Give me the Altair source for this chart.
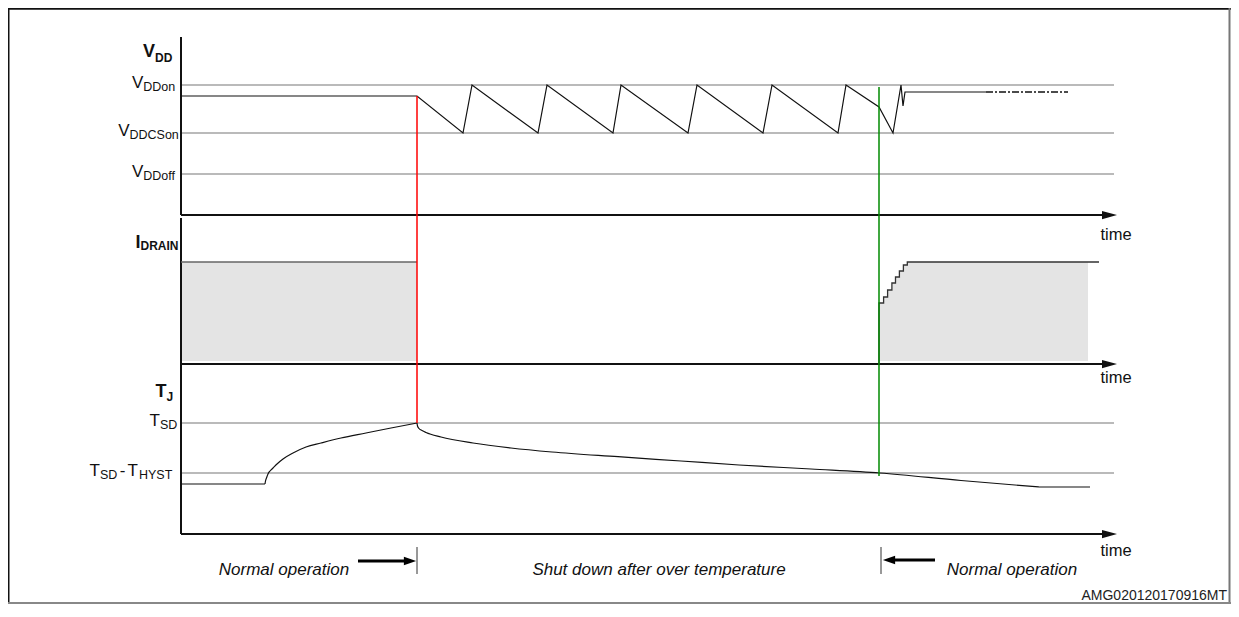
import altair as alt
import pandas as pd

# ------------------------------------------------------------------
# Values.
# time unit t : one unit = one pixel of the drawing, origin on the vertical axis
# level       : units above each panel's own time axis
# ------------------------------------------------------------------
T_SHUTDOWN = 236          # over-temperature shut-down (red marker)
T_RESTART = 698           # restart (green marker)
T_REF_END = 933           # end of the grey threshold lines
T_SHAFT_END = 922         # end of the time-axis shaft
T_HEAD = 928.5            # centre of the time-axis arrow head

# ---- VDD panel ----
vdd_ref_sub = ["DDon", "DDCSon", "DDoff"]
vdd_ref_level = [130, 82, 41]
vdd_t = [0, 236, 282, 291, 357, 366, 432, 440, 507, 516, 582, 591, 657, 665,
         698, 712, 720, 722, 724, 805]
vdd_v = [119, 119, 82, 130, 82, 130, 82, 130, 82, 130, 82, 130, 82, 130,
         108, 82, 130, 109, 123, 123]
vdd_tail_t = [805, 887]
vdd_tail_v = [123, 123]
vdd_axis_top = 178

# ---- IDRAIN panel ----
id_on_t = [0, 236]
id_on_level = 102
id_step_t = [698, 698, 702.6, 706.6, 710.9, 714.5, 718.4, 722.4, 726.3, 918]
id_step_v = [0, 61, 67, 74, 81, 87, 93, 99, 102, 102]
id_fill_end = 907
id_fill_floor = 3
id_axis_top = 146

# ---- TJ panel ----
tj_ref_level = [111, 61]            # T_SD, T_SD - T_HYST
tj_start_t = [0, 84]
tj_start_v = [50, 50]
tj_rise_t = [84, 84.5, 85.5, 87, 89, 92, 96, 102, 112, 125, 140, 160, 185, 210, 236]
tj_rise_v = [50, 53, 56, 60, 63, 66, 70, 75, 81, 87, 91, 96, 101, 106, 111]
tj_fall_t = [236, 236.5, 238, 241, 245, 260, 292, 330, 371, 437, 500, 558, 630,
             699, 780, 858]
tj_fall_v = [111, 108, 105.5, 103.5, 101.5, 97, 91, 86, 82, 77.3, 73, 69, 65,
             61, 53.5, 47]
tj_end_t = [858, 909]
tj_end_v = [47, 47]

# ------------------------------------------------------------------
# layout (styles)
# ------------------------------------------------------------------
W, H = 1223, 596
X_DOM = [-173, 1050]
Y_DOM = [0, 596]
BASE = {"vdd": 389, "id": 240, "tj": 70}
FONT = "Liberation Sans"

xs = alt.Scale(domain=X_DOM, nice=False, zero=False)
ys = alt.Scale(domain=Y_DOM, nice=False, zero=False)


def enc_x(f="t"):
    return alt.X(f, type="quantitative", scale=xs, axis=None)


def enc_y(f="y"):
    return alt.Y(f, type="quantitative", scale=ys, axis=None)


def line_df(ts, vs, base, name):
    return pd.DataFrame({"t": ts, "y": [base + v for v in vs],
                         "s": name, "i": list(range(len(ts)))})


layers = []

# ---------------- frame ----------------
frame = pd.DataFrame({
    "t": [-172.5, X_DOM[0], 1048.5, X_DOM[0]],
    "t2": [-172.5, X_DOM[1], 1048.5, X_DOM[1]],
    "y": [Y_DOM[0], 595.3, Y_DOM[0], 1.0],
    "y2": [Y_DOM[1], 595.3, Y_DOM[1], 1.0],
    "c": ["#111111", "#111111", "#777777", "#888888"],
})
layers.append(alt.Chart(frame).mark_rule(strokeWidth=2).encode(
    x=enc_x("t"), x2="t2", y=enc_y("y"), y2="y2",
    color=alt.Color("c:N", scale=None)))

# ---------------- IDRAIN fills ----------------
box = pd.DataFrame({"t": [id_on_t[0]], "t2": [id_on_t[1]],
                    "y": [BASE["id"] + id_fill_floor], "y2": [BASE["id"] + id_on_level]})
layers.append(alt.Chart(box).mark_rect(color="#e4e4e4").encode(
    x=enc_x("t"), x2="t2", y=enc_y("y"), y2="y2"))

area_t = id_step_t[1:-1] + [id_fill_end]
area_v = id_step_v[1:-1] + [id_step_v[-1]]
area = pd.DataFrame({"t": area_t, "y": [BASE["id"] + v for v in area_v],
                     "y2": BASE["id"] + id_fill_floor})
layers.append(alt.Chart(area).mark_area(color="#e4e4e4", interpolate="step-after").encode(
    x=enc_x("t"), y=enc_y("y"), y2="y2"))

# ---------------- grey threshold lines ----------------
refs = pd.DataFrame({
    "t": 0, "t2": T_REF_END,
    "y": [BASE["vdd"] + v for v in vdd_ref_level] + [BASE["tj"] + v for v in tj_ref_level],
})
layers.append(alt.Chart(refs).mark_rule(color="#a3a3a3", strokeWidth=1.3).encode(
    x=enc_x("t"), x2="t2", y=enc_y("y")))

# ---------------- axes ----------------
vaxes = pd.DataFrame({"t": [0, 0],
                      "y": [BASE["vdd"], BASE["tj"]],
                      "y2": [BASE["vdd"] + vdd_axis_top, BASE["id"] + id_axis_top]})
layers.append(alt.Chart(vaxes).mark_rule(color="#111111", strokeWidth=2).encode(
    x=enc_x("t"), y=enc_y("y"), y2="y2"))
haxes = pd.DataFrame({"t": 0, "t2": T_SHAFT_END, "y": [BASE["vdd"], BASE["id"], BASE["tj"]]})
layers.append(alt.Chart(haxes).mark_rule(color="#111111", strokeWidth=2).encode(
    x=enc_x("t"), x2="t2", y=enc_y("y")))
heads = pd.DataFrame({"t": T_HEAD, "y": [BASE["vdd"], BASE["id"], BASE["tj"]]})
layers.append(alt.Chart(heads).mark_point(
    shape="M-1,-0.55L1,0L-1,0.55Z", size=225, filled=True, color="#111111", opacity=1,
    strokeWidth=0).encode(x=enc_x("t"), y=enc_y("y")))

# ---------------- IDRAIN top edges ----------------
top = pd.DataFrame({"t": [id_on_t[0]], "t2": [id_on_t[1]], "y": [BASE["id"] + id_on_level]})
layers.append(alt.Chart(top).mark_rule(color="#666666", strokeWidth=1.5).encode(
    x=enc_x("t"), x2="t2", y=enc_y("y")))
step = line_df(id_step_t, id_step_v, BASE["id"], "id")
layers.append(alt.Chart(step).mark_line(color="#333333", strokeWidth=1.3,
                                        interpolate="step-after").encode(
    x=enc_x("t"), y=enc_y("y"), order="i:Q"))

# ---------------- signal traces ----------------
straight = pd.concat([
    line_df(vdd_t, vdd_v, BASE["vdd"], "vdd"),
    line_df(tj_start_t, tj_start_v, BASE["tj"], "tj_start"),
    line_df(tj_end_t, tj_end_v, BASE["tj"], "tj_end"),
])
layers.append(alt.Chart(straight).mark_line(color="#111111", strokeWidth=1.2).encode(
    x=enc_x("t"), y=enc_y("y"), detail="s:N", order="i:Q"))
curves = pd.concat([
    line_df(tj_rise_t, tj_rise_v, BASE["tj"], "tj_rise"),
    line_df(tj_fall_t, tj_fall_v, BASE["tj"], "tj_fall"),
])
layers.append(alt.Chart(curves).mark_line(color="#111111", strokeWidth=1.2,
                                          interpolate="monotone").encode(
    x=enc_x("t"), y=enc_y("y"), detail="s:N", order="i:Q"))
tail = line_df(vdd_tail_t, vdd_tail_v, BASE["vdd"], "tail")
layers.append(alt.Chart(tail).mark_line(color="#111111", strokeWidth=1.6,
                                        strokeDash=[7, 2, 2, 2]).encode(
    x=enc_x("t"), y=enc_y("y"), order="i:Q"))

# ---------------- event markers ----------------
ev = pd.DataFrame({
    "t": [T_SHUTDOWN, T_RESTART],
    "y": [BASE["vdd"] + vdd_v[1], BASE["vdd"] + 128],
    "y2": [BASE["tj"] + tj_ref_level[0], BASE["tj"] + 58],
    "c": ["#ff0000", "#008a00"],
})
layers.append(alt.Chart(ev).mark_rule(strokeWidth=1.5).encode(
    x=enc_x("t"), y=enc_y("y"), y2="y2", color=alt.Color("c:N", scale=None)))

# ---------------- bottom annotation ----------------
ticks = pd.DataFrame({"t": [T_SHUTDOWN, T_RESTART + 2], "y": 30, "y2": 57})
layers.append(alt.Chart(ticks).mark_rule(color="#333333", strokeWidth=1).encode(
    x=enc_x("t"), y=enc_y("y"), y2="y2"))
shafts = pd.DataFrame({"t": [177, 714], "t2": [223, 754], "y": [43, 44]})
layers.append(alt.Chart(shafts).mark_rule(color="#000000", strokeWidth=3).encode(
    x=enc_x("t"), x2="t2", y=enc_y("y")))
layers.append(alt.Chart(pd.DataFrame({"t": [229], "y": [43]})).mark_point(
    shape="M-1,-0.7L1,0L-1,0.7Z", size=150, filled=True, color="#000000", opacity=1,
    strokeWidth=0).encode(x=enc_x("t"), y=enc_y("y")))
layers.append(alt.Chart(pd.DataFrame({"t": [708], "y": [44]})).mark_point(
    shape="M1,-0.7L-1,0L1,0.7Z", size=150, filled=True, color="#000000", opacity=1,
    strokeWidth=0).encode(x=enc_x("t"), y=enc_y("y")))

phases = pd.DataFrame({
    "t": [103, 478, 831],
    "y": 29,
    "txt": ["Normal operation", "Shut down after over temperature", "Normal operation"],
})
layers.append(alt.Chart(phases).mark_text(
    font=FONT, fontSize=17, fontStyle="italic", align="center", baseline="alphabetic",
    color="#111111").encode(x=enc_x("t"), y=enc_y("y"), text="txt:N"))

times = pd.DataFrame({"t": 935, "y": [364, 221, 48], "txt": "time"})
layers.append(alt.Chart(times).mark_text(
    font=FONT, fontSize=16.5, align="center", baseline="alphabetic", color="#111111").encode(
    x=enc_x("t"), y=enc_y("y"), text="txt:N"))

code = pd.DataFrame({"t": [1046], "y": [4], "txt": ["AMG020120170916MT"]})
layers.append(alt.Chart(code).mark_text(
    font=FONT, fontSize=14, align="right", baseline="alphabetic", color="#222222").encode(
    x=enc_x("t"), y=enc_y("y"), text="txt:N"))

# ---------------- axis / level labels (main letter + subscript) ----------------
lvl_anchor = [-37.7, -51.5, -37.7]      # boundary between letter and subscript
main_rows, sub_rows = [], []
for sub, lv, a in zip(vdd_ref_sub, vdd_ref_level, lvl_anchor):
    ly = BASE["vdd"] + lv
    main_rows.append({"t": a, "y": ly - 3, "txt": "V"})
    sub_rows.append({"t": a, "y": ly - 6, "txt": sub})
# T_SD
ly = BASE["tj"] + tj_ref_level[0]
main_rows.append({"t": -21, "y": ly - 3, "txt": "T"})
sub_rows.append({"t": -21, "y": ly - 6, "txt": "SD"})
# T_SD - T_HYST
ly = BASE["tj"] + tj_ref_level[1]
main_rows.append({"t": -81, "y": ly - 3, "txt": "T"})
sub_rows.append({"t": -81, "y": ly - 6, "txt": "SD"})
main_rows.append({"t": -43, "y": ly - 3, "txt": "T"})
sub_rows.append({"t": -42, "y": ly - 6, "txt": "HYST"})

main_df = pd.DataFrame(main_rows)
sub_df = pd.DataFrame(sub_rows)
layers.append(alt.Chart(main_df).mark_text(
    font=FONT, fontSize=17, align="right", baseline="alphabetic", color="#111111").encode(
    x=enc_x("t"), y=enc_y("y"), text="txt:N"))
layers.append(alt.Chart(sub_df).mark_text(
    font=FONT, fontSize=12.5, align="left", baseline="alphabetic", color="#111111").encode(
    x=enc_x("t"), y=enc_y("y"), text="txt:N"))
dash = pd.DataFrame({"t": [-58.5], "y": [BASE["tj"] + tj_ref_level[1] - 3], "txt": ["-"]})
layers.append(alt.Chart(dash).mark_text(
    font=FONT, fontSize=17, align="center", baseline="alphabetic", color="#111111").encode(
    x=enc_x("t"), y=enc_y("y"), text="txt:N"))

# panel titles (bold)
head_main = pd.DataFrame({
    "t": [-26, -40.5, -14.5],
    "y": [547, 356, 207],
    "txt": ["V", "I", "T"],
})
head_sub = pd.DataFrame({
    "t": [-26, -40.5, -14.5],
    "y": [542, 354, 203],
    "txt": ["DD", "DRAIN", "J"],
})
layers.append(alt.Chart(head_main).mark_text(
    font=FONT, fontSize=18, fontWeight="bold", align="right", baseline="alphabetic",
    color="#111111").encode(x=enc_x("t"), y=enc_y("y"), text="txt:N"))
layers.append(alt.Chart(head_sub).mark_text(
    font=FONT, fontSize=12, fontWeight="bold", align="left", baseline="alphabetic",
    color="#111111").encode(x=enc_x("t"), y=enc_y("y"), text="txt:N"))

chart = alt.layer(*layers).properties(
    width=W, height=H, padding=0, autosize="none", background="#ffffff",
).configure_view(stroke=None)

chart.save("out.html", embed_options={"renderer": "svg", "actions": False})
